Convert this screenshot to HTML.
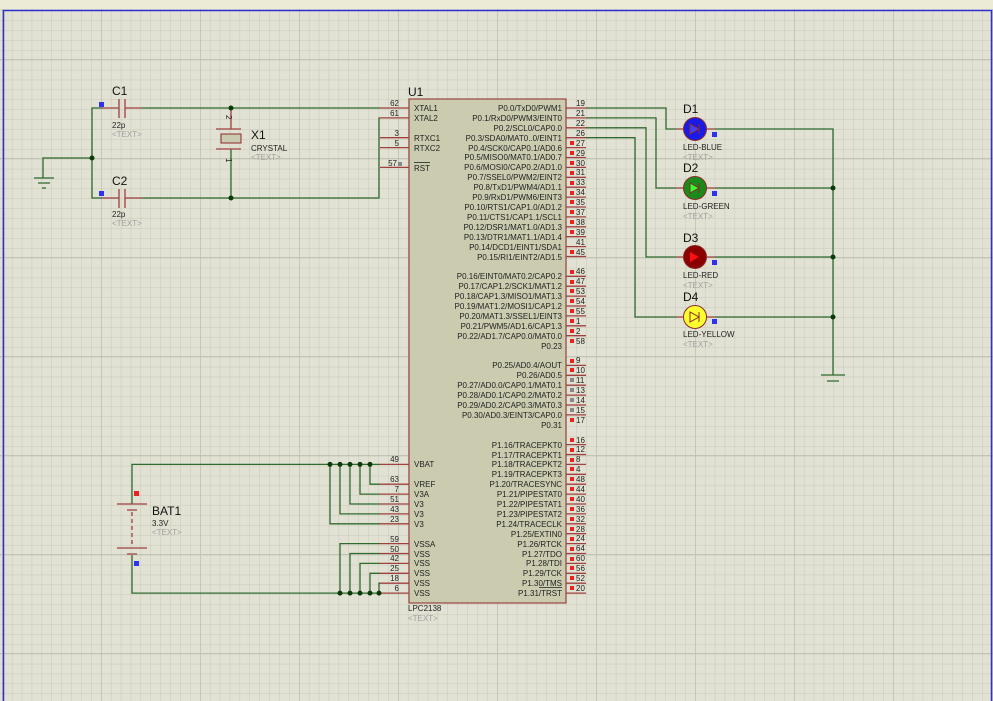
<!DOCTYPE html>
<html><head><meta charset="utf-8"><style>
html,body{margin:0;padding:0;background:#e2e2d4;}
svg{display:block}
text{font-family:"Liberation Sans",Arial,sans-serif;}
.pn{font-size:8px;fill:#222}
.pl{font-size:8px;fill:#222}
.big{font-size:12px;fill:#111}
.sm{font-size:8px;fill:#222}
.tx{font-size:8px;fill:#a0a0a0}
</style></head><body>
<svg width="993" height="701" viewBox="0 0 993 701" xmlns="http://www.w3.org/2000/svg">
<defs>
<pattern id="mn" x="2" y="0.5" width="9.9" height="9.9" patternUnits="userSpaceOnUse">
<path d="M0 0H9.9M0 0V9.9" stroke="#c9c9b9" stroke-width="1" fill="none"/>
</pattern>
<pattern id="mj" x="2" y="-40" width="99" height="99" patternUnits="userSpaceOnUse">
<path d="M0 0H99M0 0V99" stroke="#bbbbac" stroke-width="1.4" fill="none"/>
</pattern>
</defs>
<rect width="993" height="701" fill="#e2e2d4"/>
<rect width="993" height="701" fill="url(#mn)"/>
<rect width="993" height="701" fill="url(#mj)"/>
<rect x="0" y="0" width="993" height="9" fill="#ecebd6"/>
<path d="M3.5 701V10.5H991.5V701" stroke="#3030d0" stroke-width="1.5" fill="none"/>

<!-- Chip body -->
<rect x="409" y="99" width="157" height="504" fill="#cbcbb0" stroke="#8b2a2a" stroke-width="1"/>
<text class="big" x="408" y="96">U1</text>
<text class="sm" x="408" y="611">LPC2138</text>
<text class="tx" x="408" y="621">&lt;TEXT&gt;</text>

<!-- Left pins -->
<path stroke="#a04040" stroke-width="1.3" fill="none" d="M380 108H409M380 117.9H409M380 137.7H409M380 147.6H409M380 167.4H409M380 464.4H409M380 484.2H409M380 494.1H409M380 504H409M380 513.9H409M380 523.8H409M380 543.6H409M380 553.5H409M380 563.4H409M380 573.3H409M380 583.2H409M380 593.1H409"/>
<g class="pn" text-anchor="end">
<text x="399" y="106">62</text><text x="399" y="116">61</text><text x="399" y="136">3</text><text x="399" y="146">5</text><text x="397" y="166">57</text>
<text x="399" y="462">49</text><text x="399" y="482">63</text><text x="399" y="492">7</text><text x="399" y="502">51</text><text x="399" y="512">43</text><text x="399" y="522">23</text>
<text x="399" y="542">59</text><text x="399" y="552">50</text><text x="399" y="561">42</text><text x="399" y="571">25</text><text x="399" y="581">18</text><text x="399" y="591">6</text>
</g>
<rect x="398" y="162" width="4" height="4" fill="#888"/>
<g class="pl">
<text x="414" y="111">XTAL1</text><text x="414" y="121">XTAL2</text><text x="414" y="141">RTXC1</text><text x="414" y="151">RTXC2</text><text x="414" y="171">RST</text>
<text x="414" y="467">VBAT</text><text x="414" y="487">VREF</text><text x="414" y="497">V3A</text><text x="414" y="507">V3</text><text x="414" y="517">V3</text><text x="414" y="527">V3</text>
<text x="414" y="547">VSSA</text><text x="414" y="557">VSS</text><text x="414" y="566">VSS</text><text x="414" y="576">VSS</text><text x="414" y="586">VSS</text><text x="414" y="596">VSS</text>
</g>
<path d="M414 162.5H430" stroke="#222" stroke-width="0.8"/>

<!-- Right pins -->
<path stroke="#a04040" stroke-width="1.3" fill="none" d="M566 108H586M566 117.9H586M566 127.8H586M566 137.7H586M566 147.6H586M566 157.5H586M566 167.4H586M566 177.3H586M566 187.2H586M566 197.1H586M566 207H586M566 216.9H586M566 226.8H586M566 236.7H586M566 246.6H586M566 256.5H586M566 276.3H586M566 286.2H586M566 296.1H586M566 306H586M566 315.9H586M566 325.8H586M566 335.7H586M566 365.4H586M566 375.3H586M566 385.2H586M566 395.1H586M566 405H586M566 414.9H586M566 444.6H586M566 454.5H586M566 464.4H586M566 474.3H586M566 484.2H586M566 494.1H586M566 504H586M566 513.9H586M566 523.8H586M566 533.7H586M566 543.6H586M566 553.5H586M566 563.4H586M566 573.3H586M566 583.2H586M566 593.1H586"/>
<g class="pl" text-anchor="end">
<text x="562" y="111">P0.0/TxD0/PWM1</text>
<text x="562" y="121">P0.1/RxD0/PWM3/EINT0</text>
<text x="562" y="131">P0.2/SCL0/CAP0.0</text>
<text x="562" y="141">P0.3/SDA0/MAT0..0/EINT1</text>
<text x="562" y="151">P0.4/SCK0/CAP0.1/AD0.6</text>
<text x="562" y="160">P0.5/MISO0/MAT0.1/AD0.7</text>
<text x="562" y="170">P0.6/MOSI0/CAP0.2/AD1.0</text>
<text x="562" y="180">P0.7/SSEL0/PWM2/EINT2</text>
<text x="562" y="190">P0.8/TxD1/PWM4/AD1.1</text>
<text x="562" y="200">P0.9/RxD1/PWM6/EINT3</text>
<text x="562" y="210">P0.10/RTS1/CAP1.0/AD1.2</text>
<text x="562" y="220">P0.11/CTS1/CAP1.1/SCL1</text>
<text x="562" y="230">P0.12/DSR1/MAT1.0/AD1.3</text>
<text x="562" y="240">P0.13/DTR1/MAT1.1/AD1.4</text>
<text x="562" y="250">P0.14/DCD1/EINT1/SDA1</text>
<text x="562" y="260">P0.15/RI1/EINT2/AD1.5</text>
<text x="562" y="279">P0.16/EINT0/MAT0.2/CAP0.2</text>
<text x="562" y="289">P0.17/CAP1.2/SCK1/MAT1.2</text>
<text x="562" y="299">P0.18/CAP1.3/MISO1/MAT1.3</text>
<text x="562" y="309">P0.19/MAT1.2/MOSI1/CAP1.2</text>
<text x="562" y="319">P0.20/MAT1.3/SSEL1/EINT3</text>
<text x="562" y="329">P0.21/PWM5/AD1.6/CAP1.3</text>
<text x="562" y="339">P0.22/AD1.7/CAP0.0/MAT0.0</text>
<text x="562" y="349">P0.23</text>
<text x="562" y="368">P0.25/AD0.4/AOUT</text>
<text x="562" y="378">P0.26/AD0.5</text>
<text x="562" y="388">P0.27/AD0.0/CAP0.1/MAT0.1</text>
<text x="562" y="398">P0.28/AD0.1/CAP0.2/MAT0.2</text>
<text x="562" y="408">P0.29/AD0.2/CAP0.3/MAT0.3</text>
<text x="562" y="418">P0.30/AD0.3/EINT3/CAP0.0</text>
<text x="562" y="428">P0.31</text>
<text x="562" y="448">P1.16/TRACEPKT0</text>
<text x="562" y="458">P1.17/TRACEPKT1</text>
<text x="562" y="467">P1.18/TRACEPKT2</text>
<text x="562" y="477">P1.19/TRACEPKT3</text>
<text x="562" y="487">P1.20/TRACESYNC</text>
<text x="562" y="497">P1.21/PIPESTAT0</text>
<text x="562" y="507">P1.22/PIPESTAT1</text>
<text x="562" y="517">P1.23/PIPESTAT2</text>
<text x="562" y="527">P1.24/TRACECLK</text>
<text x="562" y="537">P1.25/EXTIN0</text>
<text x="562" y="547">P1.26/RTCK</text>
<text x="562" y="557">P1.27/TDO</text>
<text x="562" y="566">P1.28/TDI</text>
<text x="562" y="576">P1.29/TCK</text>
<text x="562" y="586">P1.30/TMS</text>
<text x="562" y="596">P1.31/TRST</text>
</g>
<path d="M539 587.5H562" stroke="#222" stroke-width="0.8"/>
<g class="pn">
<text x="576" y="106">19</text><text x="576" y="116">21</text><text x="576" y="126">22</text><text x="576" y="136">26</text>
<text x="576" y="146">27</text><text x="576" y="156">29</text><text x="576" y="166">30</text><text x="576" y="175">31</text>
<text x="576" y="185">33</text><text x="576" y="195">34</text><text x="576" y="205">35</text><text x="576" y="215">37</text>
<text x="576" y="225">38</text><text x="576" y="235">39</text><text x="576" y="245">41</text><text x="576" y="255">45</text>
<text x="576" y="274">46</text><text x="576" y="284">47</text><text x="576" y="294">53</text><text x="576" y="304">54</text>
<text x="576" y="314">55</text><text x="576" y="324">1</text><text x="576" y="334">2</text><text x="576" y="344">58</text>
<text x="576" y="363">9</text><text x="576" y="373">10</text><text x="576" y="383">11</text><text x="576" y="393">13</text>
<text x="576" y="403">14</text><text x="576" y="413">15</text><text x="576" y="423">17</text>
<text x="576" y="443">16</text><text x="576" y="452">12</text><text x="576" y="462">8</text><text x="576" y="472">4</text>
<text x="576" y="482">48</text><text x="576" y="492">44</text><text x="576" y="502">40</text><text x="576" y="512">36</text>
<text x="576" y="522">32</text><text x="576" y="532">28</text><text x="576" y="541">24</text><text x="576" y="551">64</text>
<text x="576" y="561">60</text><text x="576" y="571">56</text><text x="576" y="581">52</text><text x="576" y="591">20</text>
</g>
<g fill="#ee2020">
<rect x="570" y="141" width="4" height="4"/><rect x="570" y="151" width="4" height="4"/><rect x="570" y="161" width="4" height="4"/><rect x="570" y="171" width="4" height="4"/>
<rect x="570" y="181" width="4" height="4"/><rect x="570" y="191" width="4" height="4"/><rect x="570" y="200" width="4" height="4"/><rect x="570" y="210" width="4" height="4"/>
<rect x="570" y="220" width="4" height="4"/><rect x="570" y="230" width="4" height="4"/><rect x="570" y="250" width="4" height="4"/>
<rect x="570" y="270" width="4" height="4"/><rect x="570" y="280" width="4" height="4"/><rect x="570" y="289" width="4" height="4"/><rect x="570" y="299" width="4" height="4"/>
<rect x="570" y="309" width="4" height="4"/><rect x="570" y="319" width="4" height="4"/><rect x="570" y="329" width="4" height="4"/><rect x="570" y="339" width="4" height="4"/>
<rect x="570" y="359" width="4" height="4"/><rect x="570" y="368" width="4" height="4"/><rect x="570" y="418" width="4" height="4"/>
<rect x="570" y="438" width="4" height="4"/><rect x="570" y="448" width="4" height="4"/><rect x="570" y="458" width="4" height="4"/><rect x="570" y="467" width="4" height="4"/>
<rect x="570" y="477" width="4" height="4"/><rect x="570" y="487" width="4" height="4"/><rect x="570" y="497" width="4" height="4"/><rect x="570" y="507" width="4" height="4"/>
<rect x="570" y="517" width="4" height="4"/><rect x="570" y="527" width="4" height="4"/><rect x="570" y="537" width="4" height="4"/><rect x="570" y="547" width="4" height="4"/>
<rect x="570" y="557" width="4" height="4"/><rect x="570" y="566" width="4" height="4"/><rect x="570" y="576" width="4" height="4"/><rect x="570" y="586" width="4" height="4"/>
</g>
<g fill="#888">
<rect x="570" y="378" width="4" height="4"/><rect x="570" y="388" width="4" height="4"/><rect x="570" y="398" width="4" height="4"/><rect x="570" y="408" width="4" height="4"/>
</g>

<!-- Crystal / caps -->
<g stroke="#2f6a2f" stroke-width="1.3" fill="none">
<path d="M142 108H380"/>
<path d="M102 108H92V198H102"/>
<path d="M92 158H43V178"/>
<path d="M142 198H379V118H380"/>
<path d="M231 149V198"/>
</g>
<g stroke="#a04040" stroke-width="1.3" fill="none">
<path d="M102 108H119M125 108H142M119 99V118M125 99V118"/>
<path d="M102 198H119M125 198H142M119 189V208M125 189V208"/>
<path d="M231 108V129M216 129H241M216 149H241"/>
</g>
<rect x="221" y="134" width="20" height="9" fill="#cbcbb0" stroke="#8b2a2a"/>
<path d="M34 178H54M38 183H50M42 188H46" stroke="#2f6a2f" stroke-width="1.2"/>
<g fill="#0a3a0a"><circle cx="92" cy="158" r="2.5"/><circle cx="231" cy="108" r="2.5"/><circle cx="231" cy="198" r="2.5"/></g>
<rect x="99" y="102" width="5" height="5" fill="#3030f0"/>
<rect x="99" y="191" width="5" height="5" fill="#3030f0"/>
<text class="big" x="112" y="95">C1</text><text class="sm" x="112" y="128">22p</text><text class="tx" x="112" y="137">&lt;TEXT&gt;</text>
<text class="big" x="112" y="185">C2</text><text class="sm" x="112" y="217">22p</text><text class="tx" x="112" y="226">&lt;TEXT&gt;</text>
<text class="big" x="251" y="139">X1</text><text class="sm" x="251" y="151">CRYSTAL</text><text class="tx" x="251" y="160">&lt;TEXT&gt;</text>
<text class="sm" transform="translate(226,115) rotate(90)" font-size="7">2</text>
<text class="sm" transform="translate(226,158) rotate(90)" font-size="7">1</text>

<!-- LEDs -->
<g stroke="#2f6a2f" stroke-width="1.3" fill="none">
<path d="M586 108H666V129H676"/>
<path d="M586 117.9H656V188H676"/>
<path d="M586 127.8H646V257H676"/>
<path d="M586 137.7H635V317H676"/>
<path d="M715 129H833V375"/>
<path d="M715 188H833M715 257H833M715 317H833"/>
<path d="M821 375H845M827 381H839"/>
</g>
<g fill="#0a3a0a"><circle cx="833" cy="188" r="2.5"/><circle cx="833" cy="257" r="2.5"/><circle cx="833" cy="317" r="2.5"/></g>
<g stroke="#a04040" stroke-width="1.3"><path d="M676 129H684M706 129H715M676 188H684M706 188H715M676 257H684M706 257H715M676 317H684M706 317H715"/></g>
<circle cx="695" cy="129" r="11.5" fill="#1a1ae6" stroke="#8b2a2a"/>
<circle cx="695" cy="188" r="11.5" fill="#1a8a1a" stroke="#8b2a2a"/>
<circle cx="695" cy="257" r="11.5" fill="#8a0000" stroke="#8b2a2a"/>
<circle cx="695" cy="317" r="11.5" fill="#ffff30" stroke="#8b2a2a"/>
<g stroke-width="1">
<path d="M690 124V134L699 129Z M699 124V134" fill="#4040ff" stroke="#8b2a2a"/>
<path d="M690 183V193L699 188Z M699 183V193" fill="#30ff30" stroke="#8b2a2a"/>
<path d="M690 252V262L699 257Z" fill="#ff1010" stroke="none"/>
<path d="M690 312V322L699 317Z M699 312V322" fill="#ffff30" stroke="#8b2a2a"/>
</g>
<g fill="#3030f0"><rect x="712" y="132" width="5" height="5"/><rect x="712" y="191" width="5" height="5"/><rect x="712" y="260" width="5" height="5"/><rect x="712" y="319" width="5" height="5"/></g>
<text class="big" x="683" y="113">D1</text><text class="sm" x="683" y="150">LED-BLUE</text><text class="tx" x="683" y="160">&lt;TEXT&gt;</text>
<text class="big" x="683" y="172">D2</text><text class="sm" x="683" y="209">LED-GREEN</text><text class="tx" x="683" y="219">&lt;TEXT&gt;</text>
<text class="big" x="683" y="242">D3</text><text class="sm" x="683" y="278">LED-RED</text><text class="tx" x="683" y="288">&lt;TEXT&gt;</text>
<text class="big" x="683" y="301">D4</text><text class="sm" x="683" y="337">LED-YELLOW</text><text class="tx" x="683" y="347">&lt;TEXT&gt;</text>

<!-- Battery & supply -->
<g stroke="#2f6a2f" stroke-width="1.3" fill="none">
<path d="M380 464.4H132V504"/>
<path d="M132 555V593.1H380"/>
<path d="M330 464.4V523.8H380M340 464.4V513.9H380M350 464.4V504H380M360 464.4V494.1H380M370 464.4V484.2H380"/>
<path d="M340 593.1V543.6H380M350 593.1V553.5H380M360 593.1V563.4H380M370 593.1V573.3H380M379 593.1V583.2H380"/>
</g>
<g stroke="#a04040" stroke-width="1.3" fill="none">
<path d="M117 504H147M127 510H137M117 548H147M127 554H137"/>
<path d="M132 512V546" stroke-dasharray="4,3"/>
</g>
<g fill="#0a3a0a">
<circle cx="330" cy="464.4" r="2.5"/><circle cx="340" cy="464.4" r="2.5"/><circle cx="350" cy="464.4" r="2.5"/><circle cx="360" cy="464.4" r="2.5"/><circle cx="370" cy="464.4" r="2.5"/>
<circle cx="340" cy="593.1" r="2.5"/><circle cx="350" cy="593.1" r="2.5"/><circle cx="360" cy="593.1" r="2.5"/><circle cx="370" cy="593.1" r="2.5"/><circle cx="379" cy="593.1" r="2.5"/>
</g>
<rect x="134" y="491" width="5" height="5" fill="#ee2020"/>
<rect x="134" y="561" width="5" height="5" fill="#3030f0"/>
<text class="big" x="152" y="515">BAT1</text><text class="sm" x="152" y="526">3.3V</text><text class="tx" x="152" y="535">&lt;TEXT&gt;</text>
</svg>
</body></html>
